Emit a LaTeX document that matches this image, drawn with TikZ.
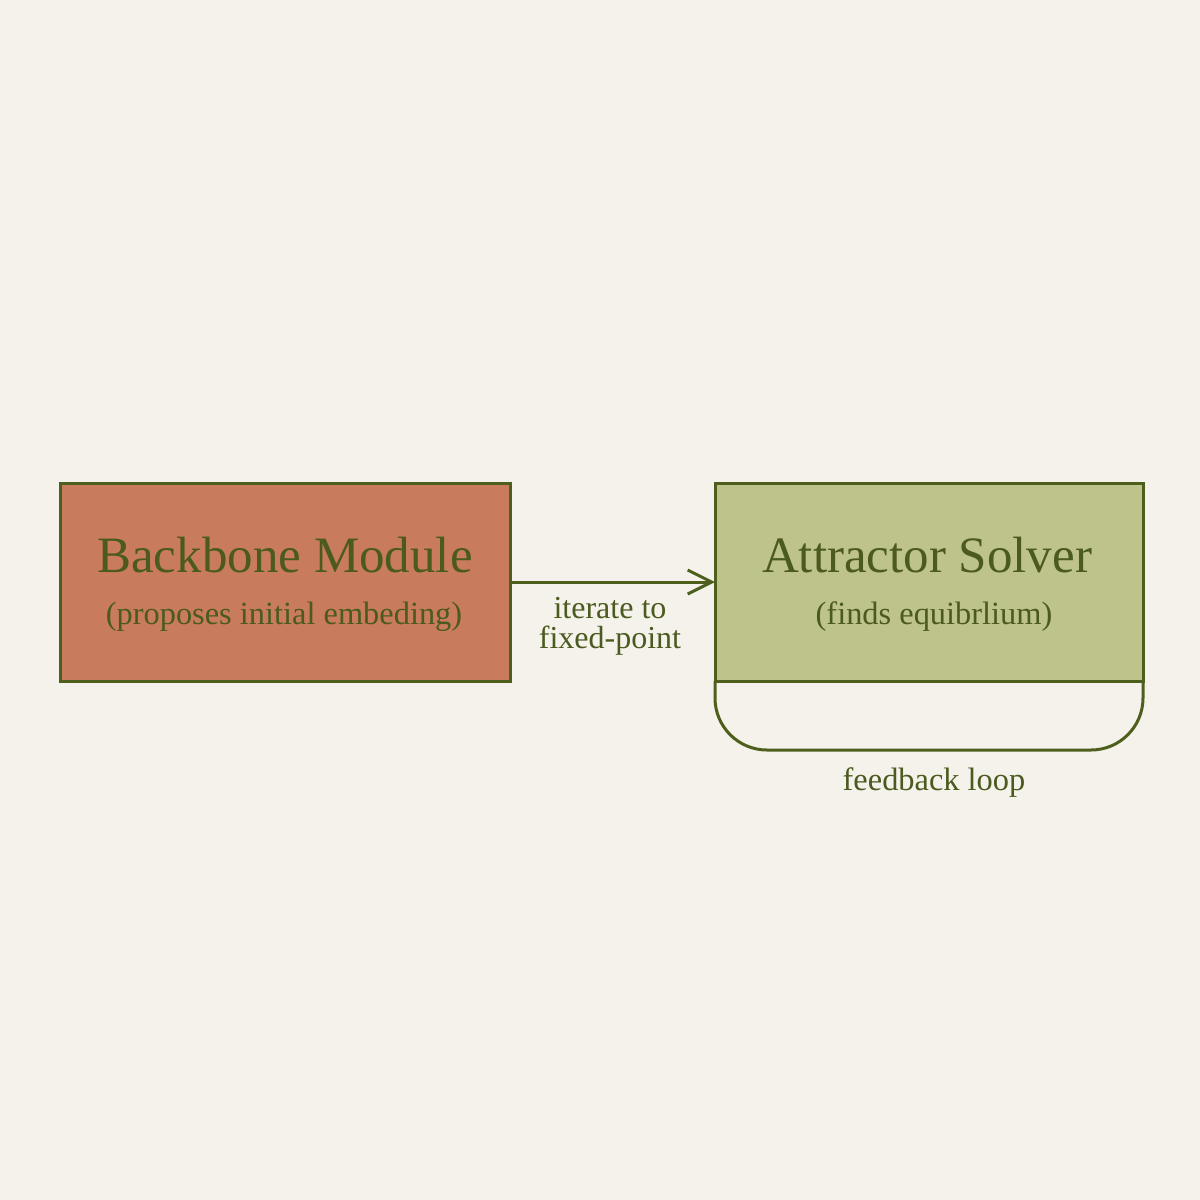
\documentclass[tikz,border=0pt]{standalone}
\usepackage{fontspec}
\setmainfont{Liberation Serif}
\usetikzlibrary{arrows.meta}
\definecolor{bgc}{HTML}{F4F2EA}
\definecolor{redfill}{HTML}{C97B5D}
\definecolor{greenfill}{HTML}{BDC38A}
\definecolor{olive}{HTML}{4E5E1C}
\definecolor{txt}{HTML}{4B5A1F}
\begin{document}
\begin{tikzpicture}[x=0.5pt,y=-0.5pt,
  box/.style={draw=olive,line width=1.5pt,inner sep=0pt,outer sep=0pt,minimum height=99pt},
  title/.style={text=txt,font=\fontsize{25.5}{28}\selectfont,inner sep=0pt},
  sub/.style={text=txt,font=\fontsize{16.2}{17}\selectfont,inner sep=0pt},
  lbl/.style={text=txt,font=\fontsize{16}{15}\selectfont,inner sep=0pt,align=center},
  conn/.style={draw=olive,line width=1.5pt,-{Straight Barb[length=12pt,width=12pt,line width=1.5pt]}}
]
\fill[bgc] (0,0) rectangle (1200,1200);
\useasboundingbox (0,0) rectangle (1200,1200);

\node[box,fill=redfill,minimum width=225pt] (backbone) at (285,582) {};
\node[box,fill=greenfill,minimum width=214pt] (solver) at (929,582) {};

\node[title] (bbtitle) at (285,555) {Backbone Module};
\node[sub] (bbsub) at (284,617) {(proposes initial embeding)};
\node[title] (sotitle) at (927,555) {Attractor Solver};
\node[sub] (sosub) at (934,617) {(finds equibrlium)};

\draw[conn] (backbone.east) -- (solver.west);
\node[lbl] (iter) at (610,626) {iterate to\\fixed-point};

\draw[draw=olive,line width=1.5pt,rounded corners=26pt]
  (solver.south west) -- ([yshift=-34.5pt]solver.south west)
  -- ([yshift=-34.5pt]solver.south east) -- (solver.south east);
\node[sub] (fb) at (934,783) {feedback loop};
\end{tikzpicture}
\end{document}
